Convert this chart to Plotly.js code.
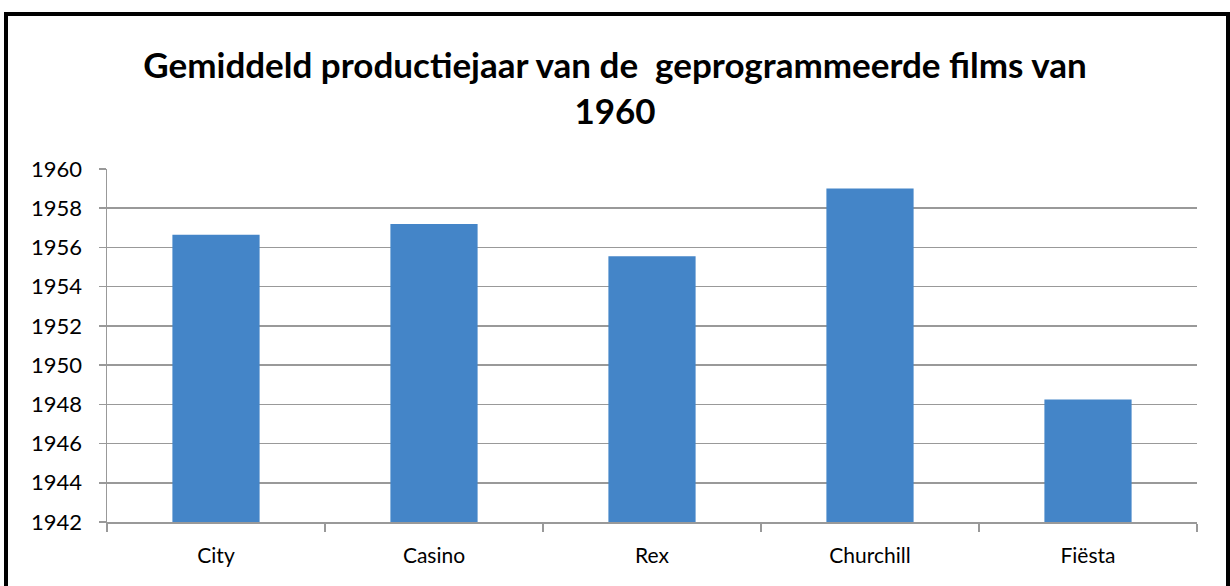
<!DOCTYPE html>
<html>
<head>
<meta charset="utf-8">
<script src="https://cdn.plot.ly/plotly-3.0.1.min.js"></script>
<style>html,body{margin:0;padding:0;background:#fff;}#chart{width:1230px;height:586px;}</style>
</head>
<body>
<div id="chart"></div>
<script>
const categories = ["City", "Casino", "Rex", "Churchill", "Fiësta"];
const avgYear = [1956.65, 1957.2, 1955.55, 1959.0, 1948.25];
const yTicks = [1942, 1944, 1946, 1948, 1950, 1952, 1954, 1956, 1958, 1960];
const titleText = "Gemiddeld productiejaar van de  geprogrammeerde films van<br>1960";

const trace = {
  type: "bar",
  x: categories,
  y: avgYear,
  marker: {color: "#4485c8", line: {width: 0}},
  hoverinfo: "x+y"
};

const layout = {
  width: 1230,
  height: 586,
  paper_bgcolor: "#ffffff",
  plot_bgcolor: "#ffffff",
  margin: {l: 107, r: 33, t: 169, b: 64},
  bargap: 0.6,
  showlegend: false,
  font: {family: "Lato, 'Open Sans', sans-serif", color: "#000"},
  title: {
    text: titleText,
    font: {family: "Lato, 'Open Sans', sans-serif", size: 35, color: "#000", weight: "bold"},
    x: 0.5, xanchor: "center", xref: "container",
    y: 1 - 78/586, yanchor: "middle", yref: "container"
  },
  xaxis: {
    type: "category",
    showgrid: false,
    showline: true, linecolor: "#999", linewidth: 1.5,
    ticks: "outside", tickson: "boundaries", ticklen: 8, tickcolor: "#999", tickwidth: 1.5,
    tickfont: {size: 21, family: "Lato, 'Open Sans', sans-serif"},
    ticklabelstandoff: 14,
    zeroline: false
  },
  yaxis: {
    range: [1942, 1960],
    tickvals: yTicks,
    ticktext: yTicks.map(String),
    showgrid: true, gridcolor: "#999", gridwidth: 1.5,
    showline: true, linecolor: "#999", linewidth: 1.5,
    ticks: "outside", ticklen: 7, tickcolor: "#999", tickwidth: 1.5,
    tickfont: {size: 22, family: "Lato, 'Open Sans', sans-serif"},
    ticklabelstandoff: 12,
    zeroline: false
  },
  shapes: [{
    type: "rect", xref: "paper", yref: "paper",
    x0: -101/1090, x1: 1 + 31/1090,
    y0: -0.3, y1: 1 + 155/353,
    line: {color: "#000", width: 4}, fillcolor: "rgba(0,0,0,0)", layer: "above"
  }]
};

Plotly.newPlot("chart", [trace], layout, {displayModeBar: false, staticPlot: true});
</script>
</body>
</html>
